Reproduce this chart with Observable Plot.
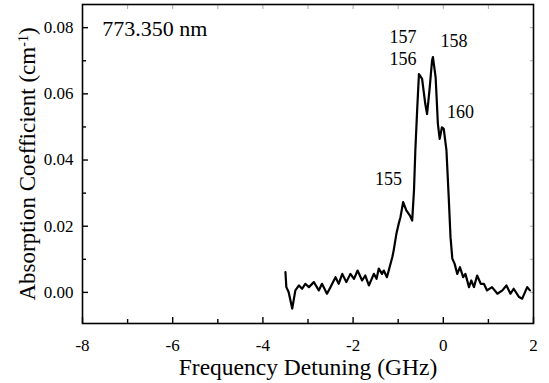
<!DOCTYPE html>
<html><head><meta charset="utf-8">
<script src="https://cdn.jsdelivr.net/npm/d3@7"></script>
<script src="https://cdn.jsdelivr.net/npm/@observablehq/plot@0.6"></script>
<style>body{margin:0;background:#fff} svg{display:block} svg text{font-family:'Liberation Serif','Times New Roman',serif}</style>
</head><body><div id="chart"></div>
<script>
// Frequency detuning (GHz)
const detuning = [-3.50,-3.48,-3.43,-3.35,-3.28,-3.20,-3.13,-3.06,-2.98,-2.87,
  -2.76,-2.69,-2.58,-2.50,-2.39,-2.32,-2.24,-2.15,-2.06,-1.98,
  -1.90,-1.80,-1.73,-1.65,-1.54,-1.48,-1.43,-1.36,-1.32,-1.25,
  -1.13,-1.10,-1.04,-0.99,-0.95,-0.89,-0.82,-0.74,-0.69,-0.65,
  -0.62,-0.58,-0.54,-0.47,-0.40,-0.36,-0.30,-0.25,-0.23,-0.17,
  -0.12,-0.08,-0.03,0.01,0.07,0.12,0.16,0.20,0.25,0.31,
  0.37,0.44,0.49,0.57,0.62,0.68,0.75,0.83,0.90,0.97,
  1.08,1.20,1.31,1.40,1.49,1.56,1.68,1.75,1.86,1.92];
// Absorption coefficient (cm^-1)
const absorption = [0.0061,0.0016,0.0001,-0.0049,0.0006,0.0021,0.0011,0.0026,0.0016,0.0031,
  0.0006,0.0026,-0.0004,0.0016,0.0046,0.0026,0.0056,0.0031,0.0056,0.0041,
  0.0066,0.0036,0.0051,0.0021,0.0056,0.0041,0.0072,0.0056,0.0066,0.0046,
  0.0107,0.0127,0.0177,0.0207,0.0227,0.0273,0.0248,0.0232,0.0217,0.0308,
  0.0429,0.0550,0.0660,0.0645,0.0570,0.0539,0.0620,0.0700,0.0711,0.0650,
  0.0509,0.0464,0.0499,0.0494,0.0429,0.0288,0.0167,0.0102,0.0087,0.0056,
  0.0076,0.0046,0.0056,0.0016,0.0036,0.0016,0.0051,0.0026,0.0026,0.0006,
  0.0016,-0.0004,0.0006,0.0021,-0.0004,0.0011,-0.0014,-0.0019,0.0016,0.0006];

const xTicks = [-8,-6,-4,-2,0,2];
const xMinorTicks = [-7,-5,-3,-1,1];
const yTicks = [0.00,0.02,0.04,0.06,0.08];
const yMinorTicks = [0.01,0.03,0.05,0.07];

// Peak annotations
const peakLabels = ["155","156","157","158","160"];
const peakX = [-1.215,-0.893,-0.893,0.237,0.381];
const peakY = [0.0341,0.0705,0.0770,0.0758,0.0545];

const wavelengthLabel = ["773.350 nm"];
const wavelengthX = [-7.56];
const wavelengthY = [0.0797];

const xTitle = "Frequency Detuning (GHz)";
const yTitle = "Absorption Coefficient (cm-1)";

const spectrum = detuning.map((x, i) => ({x, y: absorption[i]}));
const peaks = peakLabels.map((t, i) => ({t, x: peakX[i], y: peakY[i]}));
const waveAnn = wavelengthLabel.map((t, i) => ({t, x: wavelengthX[i], y: wavelengthY[i]}));

const font = "'Liberation Serif', 'Times New Roman', serif";

const plot = Plot.plot({
  width: 549,
  height: 383,
  marginLeft: 82,
  marginRight: 16,
  marginTop: 4,
  marginBottom: 60,
  style: {fontFamily: font, background: "#fff", color: "#000", overflow: "visible"},
  x: {domain: [-8, 2]},
  y: {domain: [-0.0094, 0.087]},
  marks: [
    Plot.axisX(xTicks, {anchor: "bottom", tickSize: -6, tickPadding: 21, fontSize: 17, fontFamily: font, strokeWidth: 1.4, label: null, tickFormat: d => d < 0 ? "-" + Math.abs(d) : String(d)}),
    Plot.axisX(xMinorTicks, {anchor: "bottom", tickSize: -4, text: null, label: null, strokeWidth: 1.4}),
    Plot.axisX(xTicks.concat(xMinorTicks), {anchor: "top", tickSize: -4, text: null, label: null, stroke: "#aaa", strokeWidth: 1}),
    Plot.axisY(yTicks, {anchor: "left", tickSize: -6, tickPadding: 15, fontSize: 17, fontFamily: font, strokeWidth: 1.4, label: null, tickFormat: d3.format(".2f")}),
    Plot.axisY(yMinorTicks, {anchor: "left", tickSize: -4, text: null, label: null, strokeWidth: 1.4}),
    Plot.axisY(yTicks.concat(yMinorTicks), {anchor: "right", tickSize: -4, text: null, label: null, stroke: "#aaa", strokeWidth: 1}),
    Plot.frame({stroke: "#000", strokeWidth: 1.6}),
    Plot.line(spectrum, {x: "x", y: "y", stroke: "#000", strokeWidth: 2.2, strokeLinejoin: "round"}),
    Plot.text(peaks, {x: "x", y: "y", text: "t", fontSize: 18, fontFamily: font, fill: "#000"}),
    Plot.text(waveAnn, {x: "x", y: "y", text: "t", fontSize: 22, fontFamily: font, textAnchor: "start", fill: "#000"}),
    Plot.text([xTitle], {text: d => d, frameAnchor: "bottom", dy: 44, lineAnchor: "middle", textAnchor: "middle", fontSize: 23.5, fontFamily: font, fill: "#000"}),
    Plot.text([yTitle], {text: d => d, frameAnchor: "left", dx: -55, rotate: -90, lineAnchor: "middle", textAnchor: "middle", fontSize: 23, fontFamily: font, fill: "#000"})
  ]
});

// superscript for cm-1
d3.select(plot).selectAll("text").each(function() {
  if (this.textContent === yTitle) {
    const t = d3.select(this);
    t.text(null);
    t.append("tspan").text("Absorption Coefficient (cm");
    t.append("tspan").attr("baseline-shift", "super").attr("font-size", 14).text("-1");
    t.append("tspan").text(")");
  }
});

document.getElementById("chart").appendChild(plot);
</script>
</body></html>
